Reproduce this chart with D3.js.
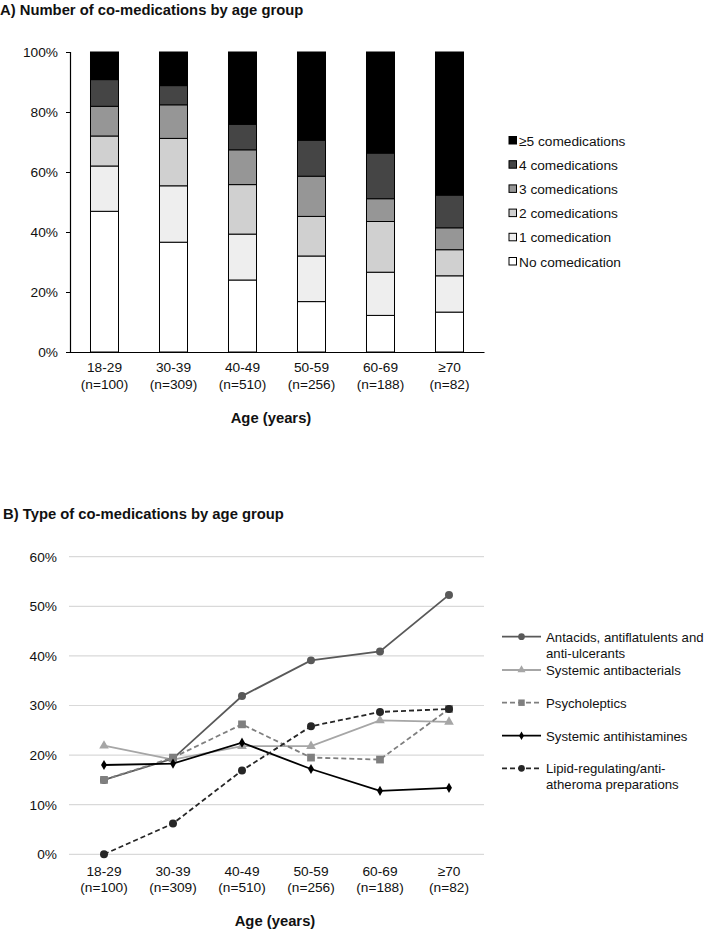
<!DOCTYPE html>
<html>
<head>
<meta charset="utf-8">
<script src="https://cdn.jsdelivr.net/npm/d3@7"></script>
<style>
  html, body { margin: 0; padding: 0; background: #fff; }
  svg { display: block; font-family: "Liberation Sans", Arial, sans-serif; }
</style>
</head>
<body>
<script>
// ---------- DATA ----------
const ageGroups = ["18-29", "30-39", "40-49", "50-59", "60-69", "≥70"];
const ageN = ["(n=100)", "(n=309)", "(n=510)", "(n=256)", "(n=188)", "(n=82)"];

// Panel A: stacked percentages (bottom to top)
const stackKeys = ["No comedication", "1 comedication", "2 comedications", "3 comedications", "4 comedications", "≥5 comedications"];
const noComed   = [46.9, 36.6, 24.0, 16.8, 12.2, 13.3];
const oneComed  = [15.1, 18.8, 15.3, 15.2, 14.4, 12.1];
const twoComed  = [10.0, 15.8, 16.5, 13.2, 16.9, 8.7];
const threeComed= [9.9, 11.2, 11.6, 13.4, 7.6, 7.3];
const fourComed = [8.9, 6.4, 8.5, 12.0, 15.2, 10.9];
const fivePlus  = [9.2, 11.2, 24.1, 29.4, 33.7, 47.7];
const stackColors = ["#ffffff", "#eeeeee", "#d0d0d0", "#969696", "#454545", "#000000"];
const yTicksA = [0, 20, 40, 60, 80, 100];

// Panel B: lines
const seriesNames = ["Antacids, antiflatulents and anti-ulcerants", "Systemic antibacterials", "Psycholeptics", "Systemic antihistamines", "Lipid-regulating/anti-atheroma preparations"];
const antacids       = [15.0, 19.3, 31.9, 39.1, 40.9, 52.3];
const antibacterials = [21.9, 19.1, 21.8, 21.8, 27.0, 26.7];
const psycholeptics  = [15.0, 19.5, 26.2, 19.5, 19.1, 29.3];
const antihistamines = [18.0, 18.3, 22.5, 17.2, 12.8, 13.4];
const lipid          = [0.0, 6.2, 16.9, 25.8, 28.7, 29.3];
const yTicksB = [0, 10, 20, 30, 40, 50, 60];

// ---------- SETUP ----------
const W = 708, H = 930;
const svg = d3.select("body").append("svg").attr("width", W).attr("height", H);
const fontSize = 13.7;
const legBSize = 13.2;
const boldSize = 14.8;

// Titles
svg.append("text").attr("x", 0).attr("y", 15).attr("font-weight", "bold").attr("font-size", boldSize).attr("fill", "#111")
  .text("A) Number of co-medications by age group");
svg.append("text").attr("x", 3).attr("y", 519).attr("font-weight", "bold").attr("font-size", boldSize).attr("fill", "#111")
  .text("B) Type of co-medications by age group");

// ---------- PANEL A ----------
const xA = d3.scaleBand().domain(ageGroups).range([70, 484]).paddingInner(0.594).paddingOuter(0.297);
const yA = d3.scaleLinear().domain([0, 100]).range([352, 52]);

const rows = ageGroups.map((g, i) => {
  const r = { group: g };
  [noComed, oneComed, twoComed, threeComed, fourComed, fivePlus].forEach((arr, k) => r[stackKeys[k]] = arr[i]);
  return r;
});
const stacked = d3.stack().keys(stackKeys)(rows);

const gA = svg.append("g");
stacked.forEach((layer, k) => {
  gA.selectAll(null).data(layer).enter().append("rect")
    .attr("x", d => xA(d.data.group))
    .attr("width", xA.bandwidth())
    .attr("y", d => yA(d[1]))
    .attr("height", d => yA(d[0]) - yA(d[1]))
    .attr("fill", stackColors[k])
    .attr("stroke", "#000")
    .attr("stroke-width", 1);
});

// Y axis A
const yAxisA = d3.axisLeft(yA).tickValues(yTicksA).tickFormat(d => d + "%").tickSize(4).tickPadding(8);
const gyA = svg.append("g").attr("transform", "translate(70,0)").call(yAxisA);
gyA.select(".domain").attr("stroke", "#000").attr("stroke-width", 1.2);
gyA.selectAll(".tick line").attr("stroke", "#000");
gyA.selectAll(".tick text").attr("font-size", fontSize).attr("fill", "#111").attr("font-family", "Liberation Sans, Arial, sans-serif");

// X axis A
const gxA = svg.append("g").attr("transform", "translate(0,352)")
  .call(d3.axisBottom(xA).tickSize(0).tickFormat(""));
gxA.select(".domain").attr("stroke", "#000").attr("stroke-width", 1.2);
ageGroups.forEach((g, i) => {
  const cx = xA(g) + xA.bandwidth() / 2;
  svg.append("text").attr("x", cx).attr("y", 372).attr("text-anchor", "middle").attr("font-size", fontSize).attr("fill", "#111").text(g);
  svg.append("text").attr("x", cx).attr("y", 389).attr("text-anchor", "middle").attr("font-size", fontSize).attr("fill", "#111").text(ageN[i]);
});
svg.append("text").attr("x", 271).attr("y", 422.5).attr("text-anchor", "middle").attr("font-weight", "bold").attr("font-size", boldSize).attr("fill", "#111").text("Age (years)");

// Legend A (top to bottom: ≥5 ... No)
const legA = svg.append("g");
stackKeys.slice().reverse().forEach((k, i) => {
  const cy = 140.5 + i * 24.2;
  const col = stackColors[stackKeys.length - 1 - i];
  legA.append("rect").attr("x", 509).attr("y", cy - 4).attr("width", 7.5).attr("height", 7.5)
    .attr("fill", col).attr("stroke", "#000").attr("stroke-width", 1);
  legA.append("text").attr("x", 519).attr("y", cy + 5).attr("font-size", fontSize).attr("fill", "#111").text(k);
});

// ---------- PANEL B ----------
const xB = d3.scalePoint().domain(ageGroups).range([104, 449]);
const yB = d3.scaleLinear().domain([0, 60]).range([854.3, 556.7]);

// gridlines
const gGrid = svg.append("g");
gGrid.selectAll("line").data(yTicksB).enter().append("line")
  .attr("x1", 69).attr("x2", 484)
  .attr("y1", d => yB(d)).attr("y2", d => yB(d))
  .attr("stroke", "#d9d9d9").attr("stroke-width", 1.2);

const yAxisB = d3.axisLeft(yB).tickValues(yTicksB).tickFormat(d => d + "%").tickSize(0).tickPadding(12);
const gyB = svg.append("g").attr("transform", "translate(69,0)").call(yAxisB);
gyB.select(".domain").remove();
gyB.selectAll(".tick text").attr("font-size", fontSize).attr("fill", "#111").attr("font-family", "Liberation Sans, Arial, sans-serif");

ageGroups.forEach((g, i) => {
  const cx = xB(g);
  svg.append("text").attr("x", cx).attr("y", 875.5).attr("text-anchor", "middle").attr("font-size", fontSize).attr("fill", "#111").text(g);
  svg.append("text").attr("x", cx).attr("y", 891.5).attr("text-anchor", "middle").attr("font-size", fontSize).attr("fill", "#111").text(ageN[i]);
});
svg.append("text").attr("x", 275).attr("y", 925.5).attr("text-anchor", "middle").attr("font-weight", "bold").attr("font-size", boldSize).attr("fill", "#111").text("Age (years)");

const seriesData = [antacids, antibacterials, psycholeptics, antihistamines, lipid];
const seriesStyle = [
  { color: "#595959", dash: null, symbol: d3.symbolCircle, size: 50 },
  { color: "#a6a6a6", dash: null, symbol: d3.symbolTriangle, size: 40 },
  { color: "#7f7f7f", dash: "5,3", symbol: d3.symbolSquare, size: 60 },
  { color: "#000000", dash: null, symbol: d3.symbolDiamond, size: 30 },
  { color: "#262626", dash: "5,3", symbol: d3.symbolCircle, size: 50 }
];
const line = d3.line().x((d, i) => xB(ageGroups[i])).y(d => yB(d));
seriesData.forEach((data, s) => {
  const st = seriesStyle[s];
  const g = svg.append("g");
  g.append("path").attr("d", line(data)).attr("fill", "none")
    .attr("stroke", st.color).attr("stroke-width", 1.8)
    .attr("stroke-dasharray", st.dash);
  g.selectAll("path.m").data(data).enter().append("path").attr("class", "m")
    .attr("d", d3.symbol().type(st.symbol).size(st.size))
    .attr("transform", (d, i) => `translate(${xB(ageGroups[i])},${yB(d)})`)
    .attr("fill", st.color);
});

// Legend B
const legRows = [
  { lines: ["Antacids, antiflatulents and", "anti-ulcerants"], y: 636.7 },
  { lines: ["Systemic antibacterials"], y: 670 },
  { lines: ["Psycholeptics"], y: 702.7 },
  { lines: ["Systemic antihistamines"], y: 735.7 },
  { lines: ["Lipid-regulating/anti-", "atheroma preparations"], y: 768.3 }
];
const legB = svg.append("g");
legRows.forEach((r, s) => {
  const st = seriesStyle[s];
  legB.append("line").attr("x1", 502).attr("x2", 541).attr("y1", r.y).attr("y2", r.y)
    .attr("stroke", st.color).attr("stroke-width", 1.8).attr("stroke-dasharray", st.dash);
  legB.append("path").attr("d", d3.symbol().type(st.symbol).size(st.size * 0.7))
    .attr("transform", `translate(521.5,${r.y})`).attr("fill", st.color);
  r.lines.forEach((t, j) => {
    legB.append("text").attr("x", 546).attr("y", r.y + 5 + j * 16).attr("font-size", legBSize).attr("fill", "#111").text(t);
  });
});
</script>
</body>
</html>
